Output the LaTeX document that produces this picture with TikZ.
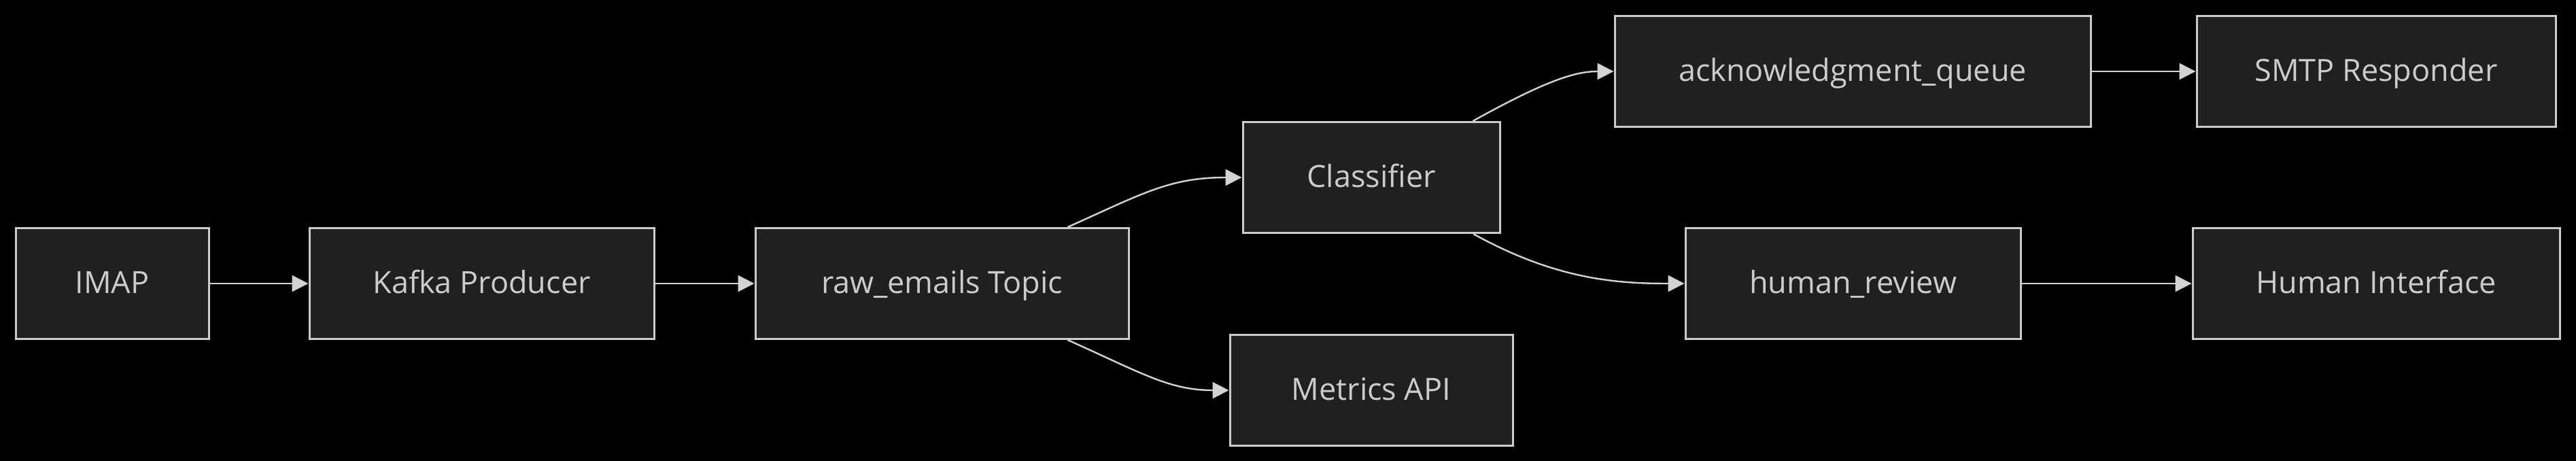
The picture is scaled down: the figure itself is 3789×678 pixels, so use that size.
\documentclass[tikz,border=0pt]{standalone}
\usepackage{fontspec}
\setmainfont{Open Sans}
\usetikzlibrary{arrows.meta}
\definecolor{boxfill}{HTML}{1F2020}
\definecolor{boxline}{HTML}{CCCCCC}
\definecolor{flowline}{HTML}{D3D3D3}
\tikzset{
  stage/.style={draw=boxline, fill=boxfill, line width=1.5pt, text=boxline,
    minimum height=81.5pt, inner sep=0pt, text height=16pt, text depth=1.5pt,
    font=\fontsize{22.5pt}{27pt}\selectfont},
  flow/.style={draw=flowline, line width=1.2pt,
    -{Triangle[length=12pt, width=12pt]}}
}
\begin{document}
\begin{tikzpicture}[x=0.5pt, y=-0.5pt]
  \fill[black] (0,0) rectangle (3789,678);
  \useasboundingbox (0,0) rectangle (3789,678);

  \node[stage, minimum width=142pt]   (imap)   at (165, 417)   {IMAP};
  \node[stage, minimum width=253.5pt] (kafka)  at (708.5, 417) {Kafka Producer};
  \node[stage, minimum width=274.5pt] (raw)    at (1385.5, 417){raw\_emails Topic};
  \node[stage, minimum width=189pt]   (clsf)   at (2017, 261)  {Classifier};
  \node[stage, minimum width=208pt]   (metric) at (2017, 574)  {Metrics API};
  \node[stage, minimum width=350pt]   (ackq)   at (2725, 105)  {acknowledgment\_queue};
  \node[stage, minimum width=264pt]   (smtp)   at (3495, 105)  {SMTP Responder};
  \node[stage, minimum width=246.5pt] (review) at (2725.5, 417){human\_review};
  \node[stage, minimum width=270pt]   (human)  at (3495, 417)  {Human Interface};

  \draw[flow] (imap) -- (kafka);
  \draw[flow] (kafka) -- (raw);
  \draw[flow] (raw) .. controls (1680, 285) and (1720, 261) .. (clsf);
  \draw[flow] (raw) .. controls (1680, 549) and (1720, 574) .. (metric);
  \draw[flow] (clsf) .. controls (2280, 115) and (2320, 105) .. (ackq);
  \draw[flow] (clsf) .. controls (2290, 412) and (2380, 417) .. (review);
  \draw[flow] (ackq) -- (smtp);
  \draw[flow] (review) -- (human);
\end{tikzpicture}
\end{document}
